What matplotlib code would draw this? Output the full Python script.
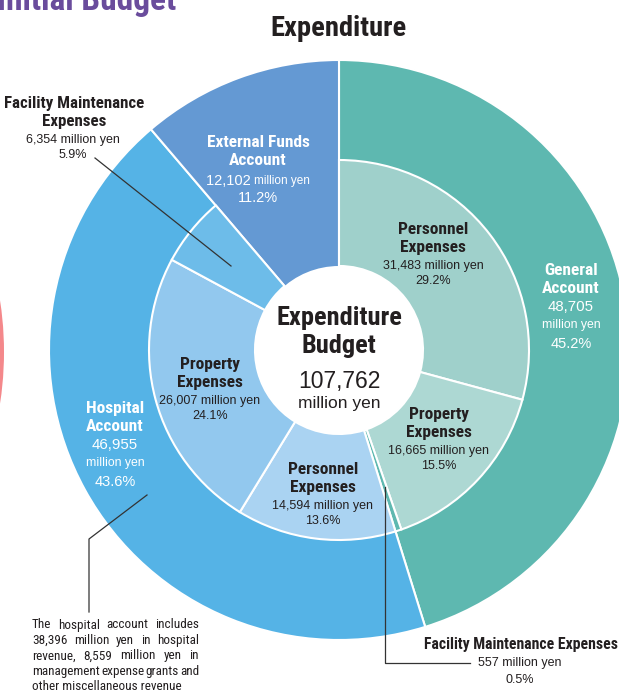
import matplotlib
matplotlib.use('Agg')
import matplotlib.pyplot as plt
from matplotlib.patches import Circle

# ---------------- data ----------------
accounts = ['General\nAccount', 'Hospital\nAccount', 'External Funds\nAccount']
account_values = [48705, 46955, 12102]
account_pcts = ['45.2%', '43.6%', '11.2%']

expense_names = ['Personnel\nExpenses', 'Property\nExpenses', 'Facility Maintenance Expenses',
                 'Personnel\nExpenses', 'Property\nExpenses', 'Facility Maintenance\nExpenses']
expense_values = [31483, 16665, 557, 14594, 26007, 6354]
expense_pcts = ['29.2%', '15.5%', '0.5%', '13.6%', '24.1%', '5.9%']

total_value = 107762
note_lines = ['The hospital account includes',
              '38,396 million yen in hospital',
              'revenue, 8,559 million yen in',
              'management expense grants and',
              'other miscellaneous revenue']

# ---------------- style ----------------
outer_colors = ['#5EB8B0', '#55B3E6', '#6499D3']
inner_colors = ['#9FD0CB', '#ADD8D3', '#5EB8B0', '#AAD3F2', '#92C8EE', '#6DBCE9']
DARK = '#231F20'
BOLD = ['Roboto Condensed', 'Archivo Narrow', 'Liberation Sans', 'DejaVu Sans']
REG = ['Liberation Sans', 'DejaVu Sans']

W, H = 619, 691
fig = plt.figure(figsize=(W / 100, H / 100), dpi=100)
ax = fig.add_axes([0, 0, 1, 1])

cx, cy = 339, 350
R_OUT, R_IN, R_HOLE = 290, 190, 84

ax.pie(account_values, colors=outer_colors, radius=R_OUT, center=(cx, cy),
       startangle=-90, counterclock=True,
       wedgeprops=dict(edgecolor='white', linewidth=1.5))

inner_vals = expense_values + [account_values[2]]
wedges, _ = ax.pie(inner_vals, colors=inner_colors + ['none'], radius=R_IN, center=(cx, cy),
                   startangle=-90, counterclock=True,
                   wedgeprops=dict(width=R_IN - R_HOLE, edgecolor='white', linewidth=1.5))
wedges[-1].set_edgecolor('none')
wedges[-1].set_facecolor('none')

ax.add_patch(Circle((cx, cy), R_HOLE, facecolor='white', edgecolor='none', zorder=3))

ax.add_patch(Circle((-336, 352), 340, facecolor='#F4888B', edgecolor='none'))
ax.text(176, 10, 'Initial Budget', ha='right', va='baseline', fontsize=24,
        fontweight='bold', family=BOLD, color='#6A4C9C')

ax.set_xlim(0, W)
ax.set_ylim(H, 0)
ax.set_aspect('auto')
ax.axis('off')

renderer = fig.canvas.get_renderer()


def mixed(x, y, parts, color):
    texts = [ax.text(0, y, s, ha='left', va='center', fontsize=fs, family=REG,
                     color=color, zorder=5) for s, fs in parts]
    widths = [t.get_window_extent(renderer).width for t in texts]
    xx = x - sum(widths) / 2
    for t, w in zip(texts, widths):
        t.set_x(xx)
        xx += w


def bold(x, y, s, color=DARK, fs=12.5, ha='center'):
    ax.text(x, y, s, ha=ha, va='center', fontsize=fs, fontweight='bold', family=BOLD,
            color=color, linespacing=1.25, zorder=5)


def reg(x, y, s, color=DARK, fs=9, ha='center'):
    ax.text(x, y, s, ha=ha, va='center', fontsize=fs, family=REG, color=color, zorder=5)


ax.text(339, 28, 'Expenditure', ha='center', va='center', fontsize=20.5,
        fontweight='bold', family=BOLD, color=DARK)

ax.text(339, 332, 'Expenditure\nBudget', ha='center', va='center', fontsize=19,
        fontweight='bold', family=BOLD, color=DARK, linespacing=1.2, zorder=5)
reg(339, 381, f'{total_value:,}', fs=16.5)
reg(339, 403, 'million yen', fs=12.5)

acc_pos = [(571, 279), (115, 417), (258, 151)]
for (x, y), name, v, p in zip(acc_pos, accounts, account_values, account_pcts):
    bold(x, y, name, color='white', fs=12.5)
    if name.startswith('External'):
        mixed(x, y + 30, [(f'{v:,} ', 10.5), ('million yen', 8.5)], 'white')
        reg(x, y + 47, p, color='white', fs=10.5)
    else:
        reg(x, y + 28, f'{v:,}', color='white', fs=10.8)
        reg(x, y + 46, 'million yen', color='white', fs=8.8)
        reg(x, y + 65, p, color='white', fs=10.5)

exp_pos = {0: (433, 238), 1: (439, 423), 3: (323, 478), 4: (210, 373)}
for i, (x, y) in exp_pos.items():
    bold(x, y, expense_names[i], fs=12.5)
    reg(x, y + 28, f'{expense_values[i]:,} million yen', fs=9)
    reg(x, y + 43, expense_pcts[i], fs=9)

bold(74, 112, expense_names[5], fs=12.2)
reg(73, 140, f'{expense_values[5]:,} million yen', fs=9)
reg(73, 155, expense_pcts[5], fs=9)
ax.plot([95, 231], [158, 266], color='#333333', lw=0.9, zorder=6)

bold(521, 645, expense_names[2], fs=11.3)
reg(520, 663, f'{expense_values[2]:,} million yen', fs=9)
reg(520, 680, expense_pcts[2], fs=9)
ax.plot([385, 385, 470], [487, 663, 663], color='#333333', lw=0.9, zorder=6)

ax.plot([147, 89, 89], [495, 539, 612], color='#333333', lw=0.9, zorder=6)
x0, x1, y0, dy = 32, 199, 625, 15.4
NOTE = ['Roboto Condensed', 'Archivo Narrow', 'Liberation Sans', 'DejaVu Sans']
for i, line in enumerate(note_lines):
    y = y0 + i * dy
    if i == len(note_lines) - 1:
        ax.text(x0, y, line, ha='left', va='center', fontsize=9.5, family=NOTE, color=DARK)
        continue
    words = line.split()
    ts = [ax.text(0, y, w, ha='left', va='center', fontsize=9.5, family=NOTE, color=DARK)
          for w in words]
    ws = [t.get_window_extent(renderer).width for t in ts]
    gap = (x1 - x0 - sum(ws)) / (len(words) - 1)
    xx = x0
    for t, w in zip(ts, ws):
        t.set_x(xx)
        xx += w + gap

fig.savefig('out.png', dpi=100)
